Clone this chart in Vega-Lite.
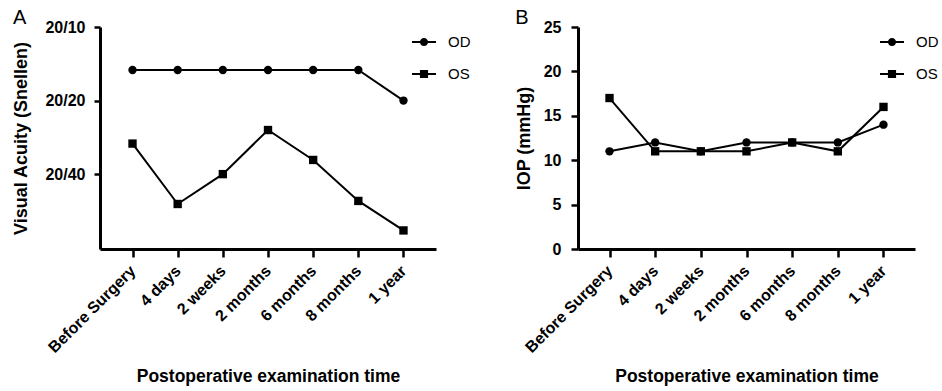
{
  "$schema": "https://vega.github.io/schema/vega-lite/v6.json",
  "padding": {"left": 12, "top": 8, "right": 2, "bottom": 2},
  "background": "white",
  "config": {
    "font": "Liberation Sans",
    "view": {"stroke": null},
    "axis": {
      "grid": false,
      "domainColor": "black",
      "domainWidth": 3,
      "tickColor": "black",
      "tickWidth": 2.5,
      "tickSize": 7,
      "labelFont": "Liberation Sans",
      "labelFontWeight": "bold",
      "labelFontSize": 16,
      "labelColor": "black",
      "titleFont": "Liberation Sans",
      "titleFontWeight": "bold",
      "titleColor": "black"
    },
    "axisX": {"titleFontSize": 17.5},
    "axisY": {"titleFontSize": 18},
    "legend": {
      "labelFont": "Liberation Sans",
      "labelFontSize": 15,
      "labelColor": "black"
    },
    "title": {
      "font": "Liberation Sans",
      "fontSize": 20,
      "fontWeight": "normal",
      "color": "black",
      "anchor": "start",
      "frame": "bounds",
      "baseline": "alphabetic",
      "offset": -9
    }
  },
  "datasets": {
    "va": [
      {"time": "Before Surgery", "eye": "OD", "snellen": 15},
      {"time": "4 days", "eye": "OD", "snellen": 15},
      {"time": "2 weeks", "eye": "OD", "snellen": 15},
      {"time": "2 months", "eye": "OD", "snellen": 15},
      {"time": "6 months", "eye": "OD", "snellen": 15},
      {"time": "8 months", "eye": "OD", "snellen": 15},
      {"time": "1 year", "eye": "OD", "snellen": 20},
      {"time": "Before Surgery", "eye": "OS", "snellen": 30},
      {"time": "4 days", "eye": "OS", "snellen": 53},
      {"time": "2 weeks", "eye": "OS", "snellen": 40},
      {"time": "2 months", "eye": "OS", "snellen": 26.4},
      {"time": "6 months", "eye": "OS", "snellen": 35},
      {"time": "8 months", "eye": "OS", "snellen": 51.5},
      {"time": "1 year", "eye": "OS", "snellen": 68}
    ],
    "iop": [
      {"time": "Before Surgery", "eye": "OD", "iop": 11},
      {"time": "4 days", "eye": "OD", "iop": 12},
      {"time": "2 weeks", "eye": "OD", "iop": 11},
      {"time": "2 months", "eye": "OD", "iop": 12},
      {"time": "6 months", "eye": "OD", "iop": 12},
      {"time": "8 months", "eye": "OD", "iop": 12},
      {"time": "1 year", "eye": "OD", "iop": 14},
      {"time": "Before Surgery", "eye": "OS", "iop": 17},
      {"time": "4 days", "eye": "OS", "iop": 11},
      {"time": "2 weeks", "eye": "OS", "iop": 11},
      {"time": "2 months", "eye": "OS", "iop": 11},
      {"time": "6 months", "eye": "OS", "iop": 12},
      {"time": "8 months", "eye": "OS", "iop": 11},
      {"time": "1 year", "eye": "OS", "iop": 16}
    ]
  },
  "spacing": 44,
  "resolve": {
    "scale": {"x": "independent", "y": "independent", "shape": "independent"},
    "legend": {"shape": "independent"}
  },
  "hconcat": [
    {
      "title": {"text": "A"},
      "width": 336,
      "height": 222,
      "data": {"name": "va"},
      "encoding": {
        "x": {
          "field": "time",
          "type": "nominal",
          "sort": ["Before Surgery", "4 days", "2 weeks", "2 months", "6 months", "8 months", "1 year"],
          "scale": {"type": "point", "padding": 0.72},
          "axis": {
            "title": "Postoperative examination time",
            "labelAngle": -45,
            "labelAlign": "right",
            "labelBaseline": "middle",
            "tickSize": 8,
            "labelPadding": 11,
            "titlePadding": 12
          }
        },
        "y": {
          "field": "snellen",
          "type": "quantitative",
          "scale": {"type": "log", "domain": [10, 81], "reverse": true},
          "axis": {
            "title": "Visual Acuity (Snellen)",
            "values": [10, 20, 40],
            "labelExpr": "'20/' + datum.value",
            "tickSize": 6,
            "labelPadding": 9,
            "titlePadding": 14
          }
        }
      },
      "layer": [
        {
          "mark": {"type": "line", "color": "black", "strokeWidth": 2},
          "encoding": {"detail": {"field": "eye"}}
        },
        {
          "mark": {"type": "point", "filled": true, "color": "black", "opacity": 1, "size": 70},
          "encoding": {
            "shape": {"condition": {"test": "datum.eye === 'OD'", "value": "circle"}, "value": "square"}
          }
        },
        {
          "transform": [{"filter": "false"}],
          "mark": {"type": "point", "filled": true, "color": "black", "opacity": 1},
          "encoding": {
            "shape": {
              "field": "eye",
              "type": "nominal",
              "scale": {
                "domain": ["OD", "OS"],
                "range": [
                  "M-1,-0.09H-0.3V0.09H-1ZM0.3,-0.09H1V0.09H0.3ZM0.34,0A0.34,0.34,0,1,1,-0.34,0A0.34,0.34,0,1,1,0.34,0Z",
                  "M-1,-0.09H-0.34V0.09H-1ZM0.34,-0.09H1V0.09H0.34ZM-0.34,-0.34H0.34V0.34H-0.34Z"
                ]
              },
              "legend": {
                "title": null,
                "orient": "none",
                "legendX": 312,
                "legendY": 3,
                "padding": 0,
                "symbolSize": 576,
                "symbolFillColor": "black",
                "symbolStrokeWidth": 0,
                "rowPadding": 12,
                "labelOffset": 12
              }
            }
          }
        }
      ]
    },
    {
      "title": {"text": "B"},
      "width": 337,
      "height": 222,
      "data": {"name": "iop"},
      "encoding": {
        "x": {
          "field": "time",
          "type": "nominal",
          "sort": ["Before Surgery", "4 days", "2 weeks", "2 months", "6 months", "8 months", "1 year"],
          "scale": {"type": "point", "padding": 0.69},
          "axis": {
            "title": "Postoperative examination time",
            "labelAngle": -45,
            "labelAlign": "right",
            "labelBaseline": "middle",
            "tickSize": 8,
            "labelPadding": 11,
            "titlePadding": 12
          }
        },
        "y": {
          "field": "iop",
          "type": "quantitative",
          "scale": {"domain": [0, 25], "nice": false},
          "axis": {
            "title": "IOP (mmHg)",
            "values": [0, 5, 10, 15, 20, 25],
            "tickSize": 7,
            "labelPadding": 10,
            "titlePadding": 10
          }
        }
      },
      "layer": [
        {
          "mark": {"type": "line", "color": "black", "strokeWidth": 2},
          "encoding": {"detail": {"field": "eye"}}
        },
        {
          "mark": {"type": "point", "filled": true, "color": "black", "opacity": 1, "size": 70},
          "encoding": {
            "shape": {"condition": {"test": "datum.eye === 'OD'", "value": "circle"}, "value": "square"}
          }
        },
        {
          "transform": [{"filter": "false"}],
          "mark": {"type": "point", "filled": true, "color": "black", "opacity": 1},
          "encoding": {
            "shape": {
              "field": "eye",
              "type": "nominal",
              "scale": {
                "domain": ["OD", "OS"],
                "range": [
                  "M-1,-0.09H-0.3V0.09H-1ZM0.3,-0.09H1V0.09H0.3ZM0.34,0A0.34,0.34,0,1,1,-0.34,0A0.34,0.34,0,1,1,0.34,0Z",
                  "M-1,-0.09H-0.34V0.09H-1ZM0.34,-0.09H1V0.09H0.34ZM-0.34,-0.34H0.34V0.34H-0.34Z"
                ]
              },
              "legend": {
                "title": null,
                "orient": "none",
                "legendX": 302,
                "legendY": 3,
                "padding": 0,
                "symbolSize": 576,
                "symbolFillColor": "black",
                "symbolStrokeWidth": 0,
                "rowPadding": 12,
                "labelOffset": 12
              }
            }
          }
        }
      ]
    }
  ]
}
